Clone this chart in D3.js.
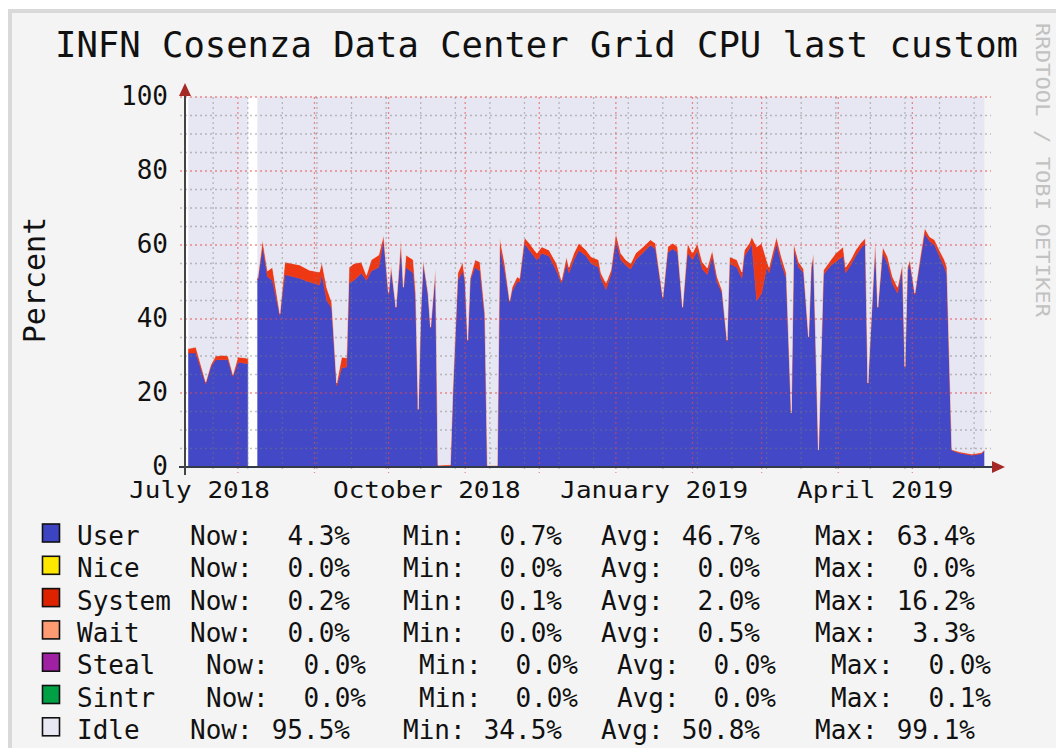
<!DOCTYPE html>
<html>
<head>
<meta charset="utf-8">
<script src="https://cdn.jsdelivr.net/npm/d3@7"></script>
<style>
  body { margin: 0; background: #fff; }
  svg { display: block; font-family: "DejaVu Sans Mono", monospace; }
</style>
</head>
<body>
<svg id="chart" width="1056" height="748"></svg>
<script>
// values (percent of CPU)
var dates = [
  "2018-07-12","2018-07-15","2018-07-19","2018-07-21","2018-07-23","2018-07-26","2018-07-28","2018-07-30",
  "2018-08-01","2018-08-04","2018-08-05","2018-08-07","2018-08-09","2018-08-11","2018-08-13","2018-08-15",
  "2018-08-18","2018-08-20","2018-08-26","2018-08-30","2018-09-03","2018-09-04","2018-09-06","2018-09-08",
  "2018-09-10","2018-09-12","2018-09-14","2018-09-15","2018-09-17","2018-09-20","2018-09-22","2018-09-24",
  "2018-09-27","2018-09-29","2018-09-30","2018-10-01","2018-10-02","2018-10-04","2018-10-06","2018-10-07",
  "2018-10-08","2018-10-11","2018-10-12","2018-10-13","2018-10-14","2018-10-15","2018-10-17","2018-10-18",
  "2018-10-20","2018-10-21","2018-10-26","2018-10-27","2018-10-29","2018-10-31","2018-11-01","2018-11-02",
  "2018-11-03","2018-11-05","2018-11-07","2018-11-09","2018-11-10","2018-11-14","2018-11-15","2018-11-17",
  "2018-11-19","2018-11-20","2018-11-22","2018-11-23","2018-11-25","2018-11-27","2018-11-30","2018-12-02",
  "2018-12-05","2018-12-08","2018-12-10","2018-12-12","2018-12-13","2018-12-15","2018-12-17","2018-12-20",
  "2018-12-22","2018-12-25","2018-12-26","2018-12-28","2018-12-30","2019-01-01","2019-01-03","2019-01-05",
  "2019-01-07","2019-01-09","2019-01-12","2019-01-15","2019-01-17","2019-01-20","2019-01-22","2019-01-24",
  "2019-01-26","2019-01-28","2019-01-30","2019-02-01","2019-02-03","2019-02-05","2019-02-07","2019-02-09",
  "2019-02-11","2019-02-13","2019-02-15","2019-02-16","2019-02-19","2019-02-21","2019-02-22","2019-02-24",
  "2019-02-25","2019-02-27","2019-03-01","2019-03-03","2019-03-04","2019-03-07","2019-03-09","2019-03-11",
  "2019-03-13","2019-03-14","2019-03-16","2019-03-18","2019-03-20","2019-03-21","2019-03-22","2019-03-24",
  "2019-03-26","2019-03-29","2019-03-31","2019-04-03","2019-04-04","2019-04-06","2019-04-08","2019-04-10",
  "2019-04-12","2019-04-13","2019-04-16","2019-04-17","2019-04-19","2019-04-21","2019-04-23","2019-04-25",
  "2019-04-27","2019-04-28","2019-04-29","2019-04-30","2019-05-02","2019-05-04","2019-05-06","2019-05-08",
  "2019-05-10","2019-05-12","2019-05-14","2019-05-15","2019-05-17","2019-05-20","2019-05-25","2019-05-29",
  "2019-05-30"
];
var userPct = [
  30.8,30.8,22.5,27.0,29.0,29.0,29.0,24.5,
  28.4,28.0,28.0,null,50.5,59.5,51.4,50.5,
  41.0,52.0,51.0,50.0,49.2,52.0,45.0,43.0,
  22.0,26.8,27.0,49.7,50.5,52.4,50.5,53.0,
  54.0,61.4,54.0,46.5,54.0,43.0,59.5,48.5,
  54.0,52.4,45.0,15.4,41.0,55.5,46.5,37.5,
  53.5,0.0,0.0,20.0,50.5,53.0,50.0,34.0,
  50.5,54.0,53.0,40.0,0.0,0.0,59.5,53.0,
  44.5,47.5,50.0,50.0,60.5,58.6,56.0,57.8,
  57.0,53.0,49.7,55.0,52.5,56.0,58.6,57.0,
  55.0,54.0,51.0,48.0,52.0,61.5,56.0,54.5,
  53.5,56.0,58.0,60.0,59.0,45.5,58.0,59.0,
  58.0,43.0,58.0,56.0,58.5,53.5,52.0,57.0,
  50.0,47.0,34.0,55.0,54.0,51.0,57.0,59.0,
  60.5,45.0,47.0,54.0,52.5,60.5,55.0,51.0,
  14.5,59.0,54.0,52.5,35.0,53.0,57.0,4.5,
  52.0,54.5,55.5,57.0,52.5,54.5,57.0,59.0,
  60.5,22.5,60.0,43.0,58.0,55.0,49.5,47.0,
  54.0,27.0,53.0,55.0,46.5,55.0,63.2,61.0,
  60.0,57.0,54.0,52.0,4.5,3.8,3.2,3.6,
  4.3
];
var systemPct = [
  1.2,1.6,0.5,0.6,1.0,1.2,1.0,0.5,
  1.3,1.5,1.3,null,0.5,1.9,1.6,3.5,
  0.5,3.4,3.6,3.2,3.5,3.4,3.4,1.5,
  0.7,2.9,2.5,4.3,4.5,3.0,1.3,3.0,
  3.3,1.3,0.6,0.5,0.6,0.2,1.9,0.1,
  3.3,3.6,2.0,0.2,0.5,0.5,0.5,0.3,
  0.5,0.5,0.6,1.0,1.9,2.4,0.5,0.3,
  0.5,2.0,2.4,1.5,0.4,0.4,2.5,2.0,
  0.5,1.1,1.4,1.0,1.5,1.9,1.8,1.7,
  1.6,2.0,0.8,1.8,1.5,1.8,1.9,1.6,
  1.8,2.0,1.4,1.7,1.2,1.7,1.8,1.5,
  1.5,1.8,1.5,1.4,1.5,0.5,1.5,1.5,
  1.5,0.2,2.5,1.8,2.0,1.9,1.8,1.6,
  1.4,0.8,0.3,1.8,2.0,1.7,1.6,1.5,
  1.7,14.5,13.5,2.0,1.5,1.7,1.8,1.4,
  0.1,1.5,1.4,1.0,0.2,1.0,0.8,0.1,
  1.2,1.5,2.3,2.5,1.5,1.5,1.6,1.5,
  1.4,0.2,1.4,0.2,1.5,1.8,1.9,1.6,
  1.0,0.2,1.0,1.0,0.5,1.0,1.4,1.2,
  1.4,1.6,2.0,2.0,0.2,0.3,0.3,0.3,
  0.2
];

var yTicks = [0, 20, 40, 60, 80, 100];
var xLabels = ["July 2018", "October 2018", "January 2019", "April 2019"];
var xLabelMonths = ["2018-07", "2018-10", "2019-01", "2019-04"];
var minorGridStart = "2018-07-22";

var legendNames = ["User", "Nice", "System", "Wait", "Steal", "Sintr", "Idle"];
var legendColors = ["#3c44c2", "#ffe800", "#dd2200", "#ff9b72", "#a020a4", "#00a045", "#e8e8f4"];
var nowVals = [4.3, 0.0, 0.2, 0.0, 0.0, 0.0, 95.5];
var minVals = [0.7, 0.0, 0.1, 0.0, 0.0, 0.0, 34.5];
var avgVals = [46.7, 0.0, 2.0, 0.5, 0.0, 0.0, 50.8];
var maxVals = [63.4, 0.0, 16.2, 3.3, 0.0, 0.1, 99.1];

var parseDay = d3.timeParse("%Y-%m-%d");
var parseMonth = d3.timeParse("%Y-%m");

var svg = d3.select("#chart");

// page + rrdtool frame
svg.append("rect").attr("width", 1056).attr("height", 748).attr("fill", "#fff");
svg.append("rect").attr("x", 8).attr("y", 9).attr("width", 1048).attr("height", 739).attr("fill", "#d9d9d9");
svg.append("rect").attr("x", 12).attr("y", 13).attr("width", 1044).attr("height", 735).attr("fill", "#f4f4f4");

var x = d3.scaleTime()
    .domain([parseDay("2018-07-11"), parseDay("2019-05-30")])
    .range([186, 984]);
var y = d3.scaleLinear()
    .domain([0, 100])
    .range([467, 97]);

var rows = dates.map(function (d, i) {
  var u = userPct[i], s = systemPct[i];
  return {
    date: parseDay(d),
    ok: u !== null,
    user: u === null ? 0 : u,
    system: s === null ? 0 : s,
    idle: u === null ? 0 : 100 - u - s
  };
});

var series = d3.stack().keys(["user", "system", "idle"])(rows);
var fills = {user: "#4349c6", system: "#ee3814", idle: "#e7e7f3"};

// white canvas
svg.append("rect")
    .attr("x", x.range()[0]).attr("y", y(100))
    .attr("width", x.range()[1] - x.range()[0])
    .attr("height", y(0) - y(100))
    .attr("fill", "#fff");

var area = d3.area()
    .defined(function (d) { return d.data.ok; })
    .x(function (d) { return x(d.data.date); })
    .y0(function (d) { return y(d[0]); })
    .y1(function (d) { return y(d[1]); });

svg.append("g").selectAll("path")
    .data(series)
  .enter().append("path")
    .attr("d", area)
    .attr("fill", function (d) { return fills[d.key]; })
    .attr("stroke", function (d) { return fills[d.key]; })
    .attr("stroke-width", 0.6);

// grid, drawn over the areas like rrdtool does
var grid = svg.append("g");
var minorDays = d3.timeWeek.range(parseDay(minorGridStart), x.domain()[1], 2);
var majorDays = d3.timeMonth.range(x.domain()[0], x.domain()[1]);

grid.selectAll(".hgrid")
    .data(d3.range(0, 101, 5))
  .enter().append("line")
    .attr("x1", 180).attr("x2", 991)
    .attr("y1", function (d) { return y(d); })
    .attr("y2", function (d) { return y(d); })
    .attr("stroke", function (d) { return d % 20 === 0 ? "rgba(235,70,70,0.6)" : "rgba(120,120,120,0.45)"; })
    .attr("stroke-width", 1.3)
    .attr("stroke-dasharray", "2,3");

grid.selectAll(".vminor")
    .data(minorDays)
  .enter().append("line")
    .attr("x1", function (d) { return x(d); })
    .attr("x2", function (d) { return x(d); })
    .attr("y1", y(100)).attr("y2", 472)
    .attr("stroke", "rgba(120,120,120,0.45)")
    .attr("stroke-width", 1.3)
    .attr("stroke-dasharray", "2,3");

grid.selectAll(".vmajor")
    .data(majorDays)
  .enter().append("line")
    .attr("x1", function (d) { return x(d); })
    .attr("x2", function (d) { return x(d); })
    .attr("y1", y(100)).attr("y2", 473)
    .attr("stroke", "rgba(235,70,70,0.6)")
    .attr("stroke-width", 1.3)
    .attr("stroke-dasharray", "2,3");

// axes with arrows
svg.append("line")
    .attr("x1", 179).attr("x2", 995)
    .attr("y1", y(0)).attr("y2", y(0))
    .attr("stroke", "#333a48").attr("stroke-width", 2);
svg.append("line")
    .attr("x1", 185).attr("x2", 185)
    .attr("y1", 475).attr("y2", 92)
    .attr("stroke", "#444").attr("stroke-width", 2);
svg.append("path")
    .attr("d", "M992,461L1005,467L992,473Z")
    .attr("fill", "#a52a26");
svg.append("path")
    .attr("d", "M179,96L185,83L191,96Z")
    .attr("fill", "#a52a26");

// labels
svg.selectAll(".ylab")
    .data(yTicks)
  .enter().append("text")
    .attr("x", 168)
    .attr("y", function (d) { return y(d) + 8; })
    .attr("text-anchor", "end")
    .attr("font-size", 26)
    .attr("fill", "#111")
    .text(function (d) { return d; });

svg.selectAll(".xlab")
    .data(xLabels)
  .enter().append("text")
    .attr("transform", function (d, i) {
      var m = parseMonth(xLabelMonths[i]);
      var cx = (x(m) + x(d3.timeMonth.offset(m, 1))) / 2;
      return "translate(" + cx + ",498) scale(1,0.9)";
    })
    .attr("text-anchor", "middle")
    .attr("font-size", 26)
    .attr("fill", "#111")
    .text(function (d) { return d; });

svg.append("text")
    .attr("transform", "translate(45,280) rotate(-90)")
    .attr("text-anchor", "middle")
    .attr("font-size", 30)
    .attr("fill", "#111")
    .text("Percent");

svg.append("text")
    .attr("x", 55).attr("y", 57)
    .attr("font-size", 36)
    .attr("textLength", 963)
    .attr("lengthAdjust", "spacingAndGlyphs")
    .attr("fill", "#111")
    .text("INFN Cosenza Data Center Grid CPU last custom");

svg.append("text")
    .attr("transform", "translate(1036,23) rotate(90)")
    .attr("font-size", 20)
    .attr("textLength", 294)
    .attr("lengthAdjust", "spacingAndGlyphs")
    .attr("fill", "#c2c2c2")
    .text("RRDTOOL / TOBI OETIKER");

// legend
var fmt = function (v) { return v.toFixed(1) + "%"; };
var legendShift = [0, 0, 0, 0, 16, 16, 0];
var legend = svg.append("g");
legendNames.forEach(function (name, i) {
  var base = 545 + i * 32.3;
  var s = legendShift[i];
  var row = legend.append("g").attr("font-size", 26).attr("fill", "#111");
  row.append("rect")
      .attr("x", 42.5).attr("y", base - 21)
      .attr("width", 17).attr("height", 18)
      .attr("fill", legendColors[i])
      .attr("stroke", "#111").attr("stroke-width", 1.6);
  row.append("text").attr("x", 77).attr("y", base).text(name);
  var parts = [
    ["Now:", 190, nowVals[i], 350],
    ["Min:", 403, minVals[i], 562],
    ["Avg:", 601, avgVals[i], 760],
    ["Max:", 815, maxVals[i], 975]
  ];
  parts.forEach(function (p) {
    row.append("text").attr("x", p[1] + s).attr("y", base).text(p[0]);
    row.append("text").attr("x", p[3] + s).attr("y", base)
        .attr("text-anchor", "end").text(fmt(p[2]));
  });
});
</script>
</body>
</html>
